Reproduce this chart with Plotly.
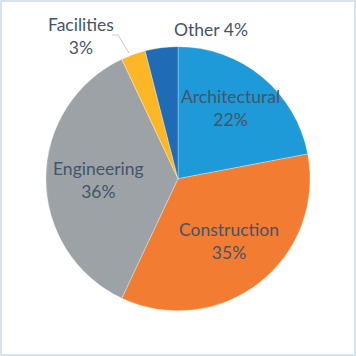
import plotly.graph_objects as go

labels = ["Architectural", "Construction", "Engineering", "Facilities", "Other"]
values = [22, 35, 36, 3, 4]
colors = ["#1e9ad8", "#f27c32", "#9da2a6", "#fcb626", "#1f6bb5"]

fig = go.Figure(go.Pie(
    labels=labels, values=values, sort=False, direction="clockwise", rotation=0,
    marker=dict(colors=colors, line=dict(color="rgba(255,255,255,0.5)", width=0.6)),
    textinfo="none", hoverinfo="label+percent", showlegend=False,
    domain=dict(x=[0.129, 0.871], y=[0.127, 0.869]),
))

font = dict(family="Lato, 'Open Sans', sans-serif", size=17.5, color="#44546a")
ann = [
    (labels[0], values[0], 230, 108),
    (labels[1], values[1], 229, 241),
    (labels[2], values[2], 98, 180),
    (labels[3], values[3], 81, 36),
    (labels[4], values[4], 211, 29),
]
for i, (lab, v, x, y) in enumerate(ann):
    txt = f"{lab} {v}%" if lab == "Other" else f"{lab}<br>{v}%"
    fig.add_annotation(x=x / 356, y=1 - y / 356, xref="paper", yref="paper",
                       xanchor="center", yanchor="middle",
                       text=txt, showarrow=False, font=font, align="center")

def px(x, y):
    return f"{x / 356:.4f},{1 - y / 356:.4f}"

fig.add_shape(type="path", xref="paper", yref="paper",
              path=f"M{px(112, 35)} L{px(118, 35)} L{px(129, 53)}",
              line=dict(color="#c8cbce", width=1))
fig.add_shape(type="rect", xref="paper", yref="paper", x0=0, y0=0, x1=1, y1=1,
              line=dict(color="#d8e3ea", width=4))

fig.update_layout(width=356, height=356, margin=dict(l=0, r=0, t=0, b=0),
                  paper_bgcolor="white", plot_bgcolor="white")
fig.write_html("out.html", config={"displayModeBar": False},
               post_script="document.body.style.margin='0';document.body.style.overflow='hidden';")
